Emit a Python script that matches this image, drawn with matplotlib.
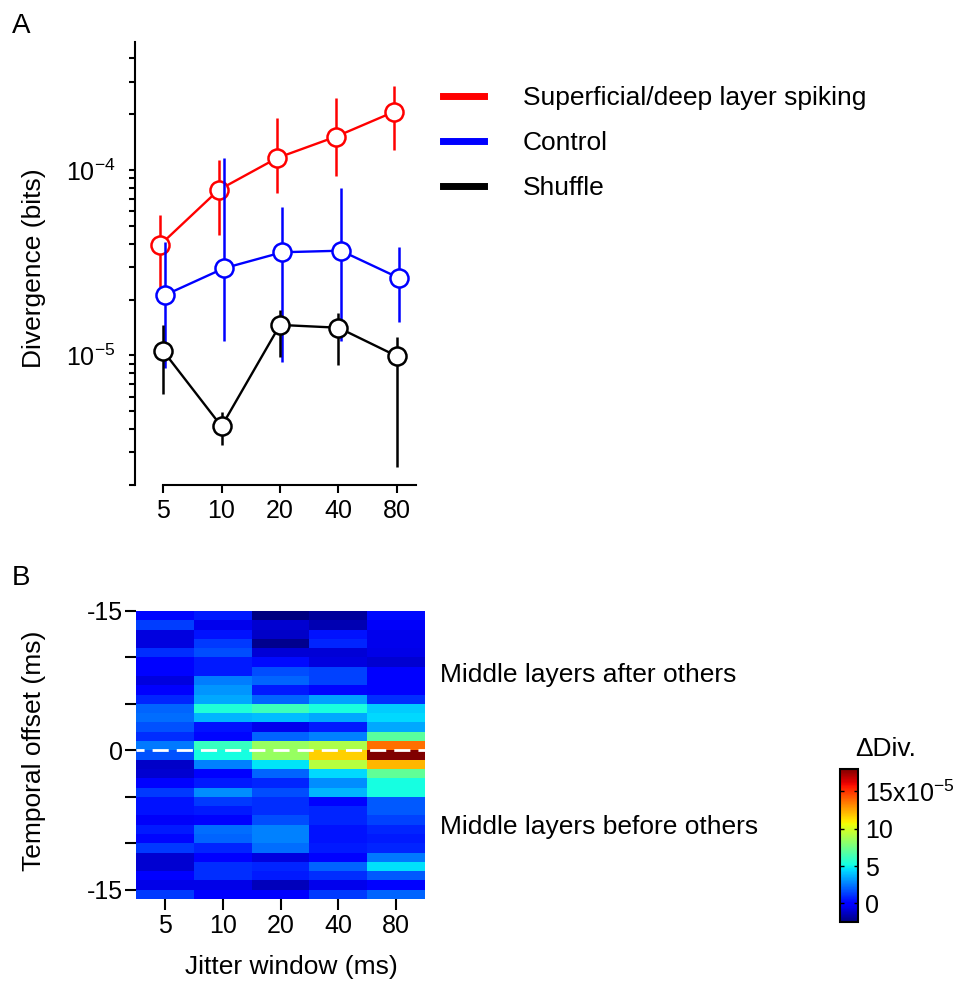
import matplotlib
matplotlib.use('Agg')
import matplotlib.pyplot as plt
import numpy as np
from matplotlib.lines import Line2D
from matplotlib.ticker import FixedLocator, NullFormatter, FixedFormatter

plt.rcParams['font.family'] = ['Liberation Sans', 'DejaVu Sans']
plt.rcParams['mathtext.default'] = 'regular'

# ---- panel A: divergence vs jitter window ----
jitter = [5, 10, 20, 40, 80]

sup_mean = [3.94e-5, 7.8e-5, 1.16e-4, 1.51e-4, 2.06e-4]
sup_hi = [5.72e-5, 1.13e-4, 1.9e-4, 2.43e-4, 2.84e-4]
sup_lo = [2.34e-5, 4.47e-5, 7.55e-5, 9.3e-5, 1.28e-4]

ctl_mean = [2.12e-5, 2.95e-5, 3.6e-5, 3.67e-5, 2.61e-5]
ctl_hi = [4.11e-5, 1.16e-4, 6.34e-5, 7.97e-5, 3.83e-5]
ctl_lo = [8.6e-6, 1.2e-5, 9.27e-6, 1.2e-5, 1.52e-5]

shf_mean = [1.06e-5, 4.14e-6, 1.46e-5, 1.41e-5, 9.9e-6]
shf_hi = [1.46e-5, 4.94e-6, 1.76e-5, 1.69e-5, 1.26e-5]
shf_lo = [6.2e-6, 3.3e-6, 9.8e-6, 8.9e-6, 2.5e-6]

series_names = ['Superficial/deep layer spiking', 'Control', 'Shuffle']

# ---- panel B: change in divergence, offset (rows) x jitter window (cols), units of 1e-5 ----
offsets = list(range(-15, 16))
ddiv_5 = [0.2, 1.3, -0.8, -0.8, 1.0, 0.1, 0.1, -0.8, 0.0, 0.8, 2.1, 2.3, 1.7, 1.0, 2.5,
          1.7, -1.2, -1.0, 0.1, 1.2, 0.4, 0.4, -0.3, 0.6, 0.2, 1.2, -1.0, -1.0, 0.0, -0.6, 1.2]
ddiv_10 = [0.6, -0.5, 0.4, 1.2, 1.6, 0.6, 0.6, 2.6, 3.1, 3.5, 5.5, 3.7, 0.4, 0.2, 6.0,
           5.2, 2.7, 0.0, 0.6, 2.9, 1.2, 0.6, 0.1, 2.3, 2.1, 0.8, -0.1, 1.0, 1.0, -0.6, 0.0]
ddiv_20 = [-2.5, -1.0, -1.2, -2.2, -0.9, 0.3, 1.6, 2.1, 0.6, 2.1, 6.2, 3.9, -0.5, 2.1, 8.4,
           8.4, 4.7, 2.1, 0.8, 1.6, 1.0, 1.0, 1.6, 2.7, 2.7, 2.3, -0.8, 0.8, 0.6, -1.4, 0.0]
ddiv_40 = [-2.0, -1.6, 0.4, 0.8, -0.9, -0.8, 1.4, 1.4, 0.2, 3.3, 5.3, 3.5, 0.6, 2.7, 9.0,
           11.6, 9.2, 4.4, 2.9, 3.7, 0.1, 0.8, 0.8, 0.4, 0.4, 0.6, 0.1, 2.1, 1.0, -0.5, 1.2]
ddiv_80 = [0.3, -0.3, -0.5, -0.5, -0.6, -1.0, 0.0, 0.0, -0.1, 1.0, 4.2, 4.4, 3.5, 6.9, 13.7,
           18.0, 12.2, 7.1, 5.2, 5.2, 1.9, 1.9, 1.4, 0.8, 0.6, 0.8, 2.5, 4.6, 1.9, 0.1, 2.1]

fig = plt.figure(figsize=(9.56, 9.81), dpi=100)
W, H = 956.0, 981.0

# ---------------- A ----------------
ax = fig.add_axes([135 / W, (H - 485) / H, 281 / W, 443 / H])
pos = np.arange(len(jitter))
styles = [('red', -0.05, 2), ('blue', 0.04, 3), ('black', 0.0, 4)]
data = [(sup_mean, sup_lo, sup_hi), (ctl_mean, ctl_lo, ctl_hi), (shf_mean, shf_lo, shf_hi)]
for (col, dx, z), (m, lo, hi) in zip(styles, data):
    x = pos + dx
    ax.vlines(x, lo, hi, color=col, lw=1.8, zorder=z)
    ax.plot(x, m, '-o', color=col, lw=1.7, ms=13, mfc='white', mec=col, mew=1.8,
            zorder=z + 0.5)

ax.set_yscale('log')
ax.set_ylim(2e-6, 4.9e-4)
ax.set_xlim(-0.479, 4.325)
ax.set_xticks(pos)
ax.set_xticklabels([str(j) for j in jitter])
ax.yaxis.set_major_locator(FixedLocator([1e-5, 1e-4]))
ax.yaxis.set_major_formatter(FixedFormatter([r'$\mathregular{10^{-5}}$', r'$\mathregular{10^{-4}}$']))
minors = [k * 10.0 ** e for e in (-6, -5, -4) for k in range(2, 10)]
ax.yaxis.set_minor_locator(FixedLocator(minors))
ax.yaxis.set_minor_formatter(NullFormatter())
for s in ('top', 'right'):
    ax.spines[s].set_visible(False)
for s in ('left', 'bottom'):
    ax.spines[s].set_linewidth(1.5)
ax.spines['bottom'].set_bounds(0, 4.325)
ax.tick_params(axis='y', which='both', length=4, width=1.5, labelsize=18, pad=10)
ax.tick_params(axis='x', length=6, width=1.5, labelsize=18, pad=4)

handles = [Line2D([], [], color=c, lw=5) for c, _, _ in styles]
fig.legend(handles, series_names, loc='upper left', bbox_to_anchor=(443 / W, 1 - 86 / H),
           frameon=False, fontsize=19, handlelength=1.55, handletextpad=1.48,
           labelspacing=0.8, borderpad=0, borderaxespad=0)

fig.text(34 / W, 1 - 268 / H, 'Divergence (bits)', rotation=90, ha='center', va='center',
         fontsize=19)
fig.text(12 / W, 1 - 33 / H, 'A', fontsize=20, va='baseline')

# ---------------- B ----------------
axb = fig.add_axes([136 / W, (H - 899) / H, 289 / W, 288 / H])
grid = np.array([ddiv_5, ddiv_10, ddiv_20, ddiv_40, ddiv_80]).T * 1e-5
xedges = np.arange(len(jitter) + 1)
yedges = np.arange(offsets[0], offsets[-1] + 2)
mesh = axb.pcolormesh(xedges, yedges, grid, cmap='jet', vmin=-2.5e-5, vmax=18e-5)
axb.axhline(0, color='white', lw=2, ls=(2.9, (5.8, 2.9)))
axb.set_xlim(0, len(jitter))
axb.set_ylim(16, -15)
axb.set_xticks(xedges[:-1] + 0.5)
axb.set_xticklabels([str(j) for j in jitter])
axb.set_yticks([-15, -10, -5, 0, 5, 10, 15])
axb.set_yticklabels(['-15', '', '', '0', '', '', '-15'])
for s in axb.spines.values():
    s.set_visible(False)
axb.tick_params(axis='y', length=8, width=1.5, labelsize=18, pad=1)
axb.tick_params(axis='x', length=8, width=1.5, labelsize=18, pad=3)

fig.text(34 / W, 1 - 751 / H, 'Temporal offset (ms)', rotation=90, ha='center', va='center',
         fontsize=19)
fig.text(291 / W, 1 - 967 / H, 'Jitter window (ms)', ha='center', va='center', fontsize=19)
fig.text(12 / W, 1 - 585 / H, 'B', fontsize=20, va='baseline')

fig.text(440 / W, 1 - 675 / H, 'Middle layers after others', va='center', fontsize=19)
fig.text(440 / W, 1 - 827 / H, 'Middle layers before others', va='center', fontsize=19)

cax = fig.add_axes([840 / W, (H - 922) / H, 18 / W, 153 / H])
cb = fig.colorbar(mesh, cax=cax, ticks=[0, 5e-5, 10e-5, 15e-5])
cb.ax.set_yticklabels(['0', '5', '10', r'$\mathregular{15x10^{-5}}$'])
cb.outline.set_linewidth(1.5)
cax.tick_params(direction='in', length=3, width=1, labelsize=18, pad=5, left=True, right=True)
cax.yaxis.set_minor_locator(FixedLocator([]))
fig.text(855 / W, 1 - 749 / H, '\u0394Div.', va='center', ha='left', fontsize=19)

fig.savefig('out.png', dpi=100)
